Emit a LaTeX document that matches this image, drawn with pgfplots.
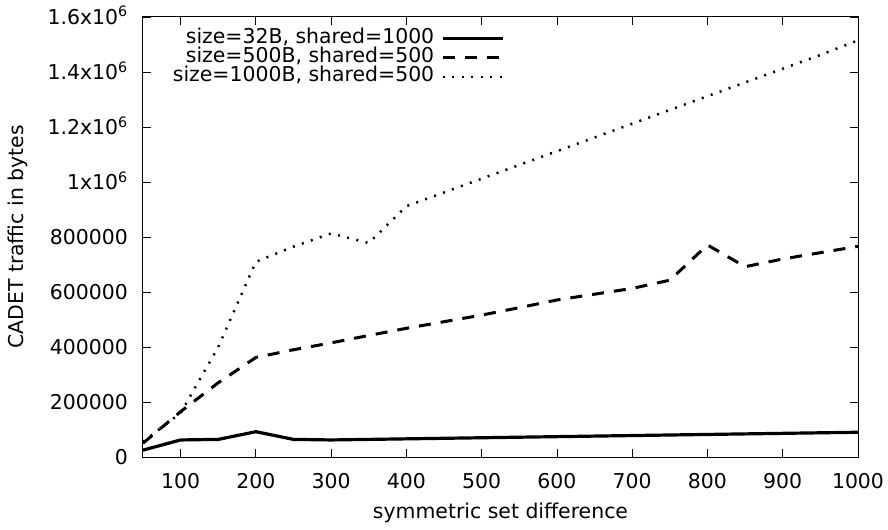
\documentclass[border=0pt]{standalone}
\usepackage{fontspec}
\setmainfont{DejaVu Sans}
\usepackage{pgfplots}
\pgfplotsset{compat=1.18}
\begin{document}
\fontsize{20.5}{24}\selectfont
\begin{tikzpicture}[x=1bp,y=1bp]
\begin{axis}[
  name=ax,
  scale only axis,
  width=715bp, height=440bp,
  xmin=50, xmax=1000, ymin=0, ymax=1600000,
  xtick={100,200,...,1000},
  ytick={0,200000,400000,600000,800000,1000000,1200000,1400000,1600000},
  yticklabels={0,200000,400000,600000,800000,1x10\textsuperscript{6},1.2x10\textsuperscript{6},1.4x10\textsuperscript{6},1.6x10\textsuperscript{6}},
  scaled y ticks=false,
  /pgf/number format/assume math mode=true,
  /pgf/number format/1000 sep={},
  tick align=inside,
  major tick length=8bp,
  axis line style={line width=1bp},
  every tick/.style={line width=0.8bp,black},
  tick label style={font=\fontsize{20.5}{24}\selectfont},
  xticklabel style={anchor=base, yshift=-31bp, inner sep=0pt},
  yticklabel style={anchor=base east, xshift=-15bp, yshift=-7.5bp, inner sep=0pt},
  xlabel={symmetric set difference},
  ylabel={CADET traffic in bytes},
  label style={font=\fontsize{20.5}{24}\selectfont},
  every axis x label/.style={at={(axis description cs:0.5,0)}, anchor=center, yshift=-56bp},
  every axis y label/.style={at={(axis description cs:-0.1748,0.5)}, anchor=center, rotate=90},
  legend style={draw=none, fill=none, at={(0.51,0.977)}, anchor=north east,
    font=\fontsize{20.5}{24}\selectfont, row sep=0pt, column sep=0pt,
    nodes={inner ysep=0pt, inner xsep=7bp, text height=14bp, text depth=5bp}},
  legend cell align=right,
  legend plot pos=right,
  legend image code/.code={\draw[#1] (0bp,0bp) -- (60bp,0bp);},
]
\addplot[black, line width=3.2bp] coordinates {
(50,25000) (100,62000) (150,64000) (200,92000) (250,64000) (300,62000)
(350,64000) (400,66000) (450,68000) (500,70000) (550,72000) (600,74000)
(650,76000) (700,78000) (750,80000) (800,82000) (850,84000) (900,86000)
(950,88000) (1000,90000)};
\addlegendentry{size=32B, shared=1000}
\addplot[black, line width=3bp, dash pattern=on 12bp off 10bp] coordinates {
(50,50000) (100,165000) (150,270000) (200,362000) (250,390000) (300,415000)
(350,442000) (400,468000) (450,492000) (500,516000) (550,543000) (600,571000)
(650,592000) (700,613000) (750,643000) (800,771000) (850,692000) (900,720000)
(950,743000) (1000,766000)};
\addlegendentry{size=500B, shared=500}
\addplot[black, line width=2.5bp, dash pattern=on 2bp off 7.5bp] coordinates {
(50,55000) (100,160000) (150,400000) (200,710000) (250,765000) (300,813000)
(350,778000) (400,912000) (450,962000) (500,1012000) (550,1062000) (600,1112000)
(650,1162000) (700,1212000) (750,1262000) (800,1312000) (850,1362000) (900,1412000)
(950,1462000) (1000,1515000)};
\addlegendentry{size=1000B, shared=500}
\end{axis}
\pgfresetboundingbox
\path[use as bounding box] ([shift={(-143bp,-73bp)}]ax.south west) rectangle ([shift={(745bp,457bp)}]ax.south west);
\end{tikzpicture}
\end{document}
